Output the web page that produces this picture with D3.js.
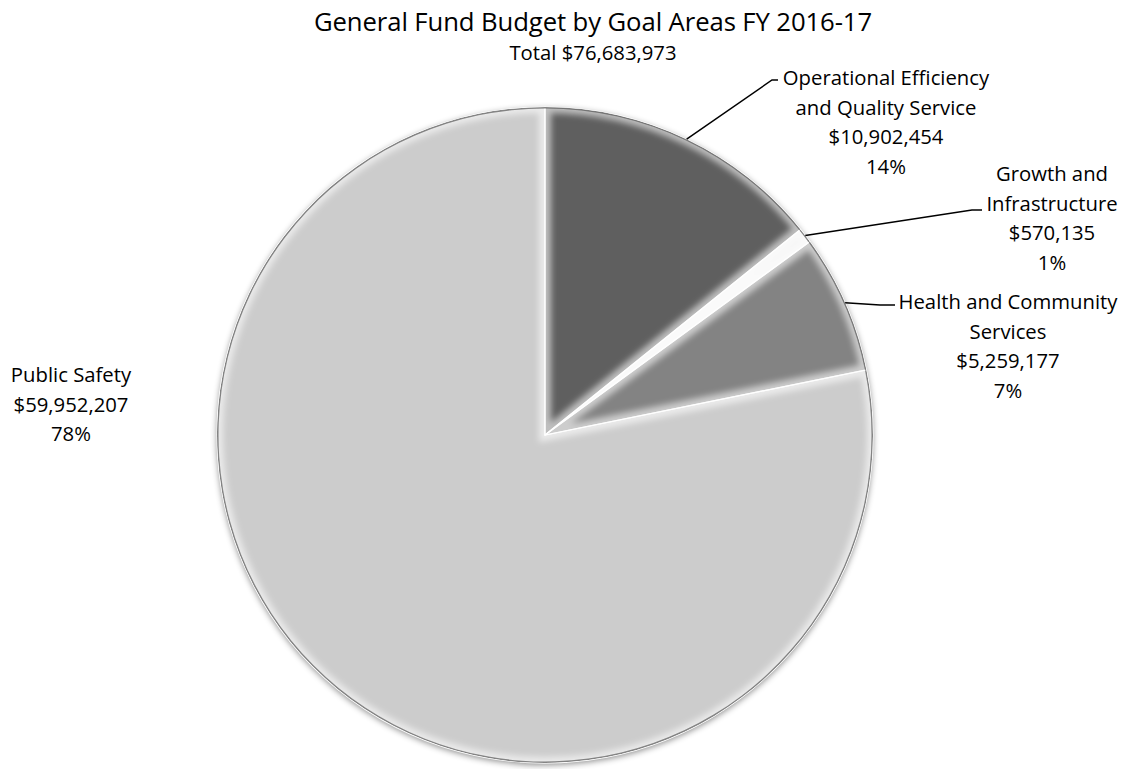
<!DOCTYPE html>
<html>
<head>
<meta charset="utf-8">
<script src="https://cdn.jsdelivr.net/npm/d3@7"></script>
<style>
  html, body { margin: 0; padding: 0; background: #ffffff; }
  svg { display: block; }
  text { font-family: "Open Sans", Lato, sans-serif; fill: #000; }
</style>
</head>
<body>
<svg id="chart" width="1133" height="769"></svg>
<script>
// Goal areas, in clockwise order starting at 12 o'clock
const categories = [
  "Operational Efficiency and Quality Service",
  "Growth and Infrastructure",
  "Health and Community Services",
  "Public Safety"
];
// Label text broken into lines
const nameLines = [
  ["Operational Efficiency", "and Quality Service"],
  ["Growth and", "Infrastructure"],
  ["Health and Community", "Services"],
  ["Public Safety"]
];
// General Fund budget per goal area (USD)
const amounts = [10902454, 570135, 5259177, 59952207];
// Slice fills
const sliceColors = ["#5e5e5e", "#f2f2f2", "#838383", "#cccccc"];

const titleText = "General Fund Budget by Goal Areas FY 2016-17";

const W = 1133, H = 769;
const cx = 545, cy = 435, R = 328;
const total = d3.sum(amounts);
const fmtMoney = d3.format("$,");
const fmtPct = d3.format(".0%");

const svg = d3.select("#chart");
const defs = svg.append("defs");

// soft shadow around the pie
const shadow = defs.append("filter").attr("id", "pieShadow")
  .attr("x", "-10%").attr("y", "-10%").attr("width", "120%").attr("height", "120%");
shadow.append("feDropShadow").attr("dx", 0).attr("dy", 2)
  .attr("stdDeviation", 3).attr("flood-color", "#000").attr("flood-opacity", 0.45);

// blur used for the bevel highlights
const soft = defs.append("filter").attr("id", "bevelBlur")
  .attr("x", "-5%").attr("y", "-5%").attr("width", "110%").attr("height", "110%");
soft.append("feGaussianBlur").attr("stdDeviation", 3);

// Title
svg.append("text").attr("x", 593).attr("y", 31).attr("text-anchor", "middle")
  .style("font-size", "25.7px").style("letter-spacing", "-0.1px").text(titleText);
svg.append("text").attr("x", 593).attr("y", 60).attr("text-anchor", "middle")
  .style("font-size", "20.3px").text("Total " + fmtMoney(total));

const pie = d3.pie().sort(null).value(d => d);
const arcs = pie(amounts);
const arc = d3.arc().innerRadius(0).outerRadius(R);

const g = svg.append("g").attr("transform", `translate(${cx},${cy})`);
const pieG = g.append("g").attr("filter", "url(#pieShadow)");

arcs.forEach((a, i) => {
  defs.append("clipPath").attr("id", "clip" + i)
    .append("path").attr("d", arc(a)).attr("transform", `translate(${cx},${cy})`);
  pieG.append("path").attr("d", arc(a)).attr("fill", sliceColors[i]);
});

// bevel: light glow along inside edges, dark rim at outer edge
arcs.forEach((a, i) => {
  const bg = svg.append("g").attr("clip-path", `url(#clip${i})`);
  bg.append("path").attr("d", arc(a)).attr("transform", `translate(${cx},${cy})`)
    .attr("fill", "none").attr("stroke", "#ffffff").attr("stroke-opacity", 0.6)
    .attr("stroke-width", 12).attr("filter", "url(#bevelBlur)");
  bg.append("path")
    .attr("d", d3.arc().innerRadius(R - 1.5).outerRadius(R)(a))
    .attr("transform", `translate(${cx},${cy})`)
    .attr("fill", "#555").attr("fill-opacity", 0.7);
});

// thin separators between slices
g.selectAll("path.sep").data(arcs).join("path").attr("class", "sep")
  .attr("d", arc).attr("fill", "none").attr("stroke", "#ffffff")
  .attr("stroke-width", 1.2).attr("stroke-opacity", 0.9);

// Labels with leader lines
const labelSpec = [
  { x: 886, y: 85, elbow: [772, 80], end: 778, leader: true },
  { x: 1052, y: 181, elbow: [972, 210], end: 982, leader: true },
  { x: 1008, y: 309, elbow: [880, 305], end: 895, leader: true },
  { x: 71, y: 382, leader: false }
];
const lineH = 29.5;

arcs.forEach((a, i) => {
  const spec = labelSpec[i];
  const lines = nameLines[i].concat([fmtMoney(amounts[i]), fmtPct(amounts[i] / total)]);
  const t = svg.append("text").attr("text-anchor", "middle").style("font-size", "20.3px");
  lines.forEach((s, k) => {
    t.append("tspan").attr("x", spec.x).attr("y", spec.y + k * lineH).text(s);
  });
  if (spec.leader) {
    const mid = (a.startAngle + a.endAngle) / 2;
    const p0 = [cx + R * Math.sin(mid), cy - R * Math.cos(mid)];
    svg.append("polyline")
      .attr("points", [p0, spec.elbow, [spec.end, spec.elbow[1]]].map(p => p.join(",")).join(" "))
      .attr("fill", "none").attr("stroke", "#000").attr("stroke-width", 1.5);
  }
});
</script>
</body>
</html>
